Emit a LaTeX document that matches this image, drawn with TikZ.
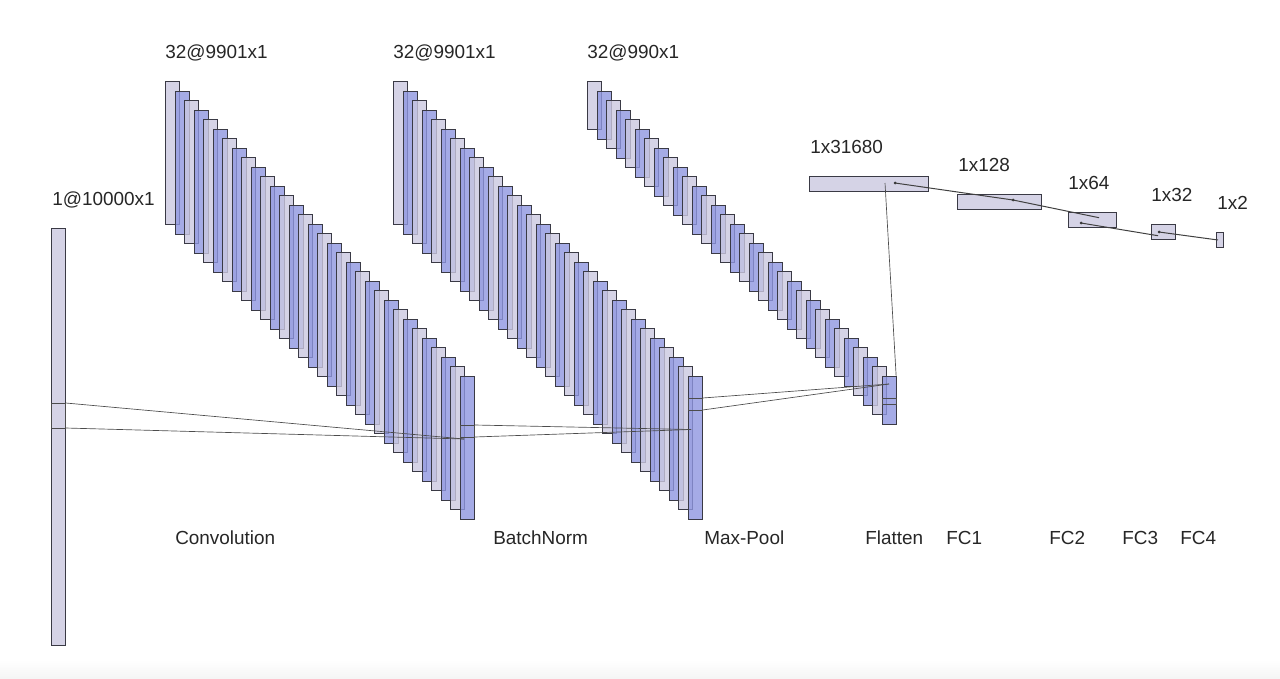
\documentclass[tikz,border=0pt]{standalone}
\usepackage{fontspec}
\setmainfont{Liberation Sans}
\definecolor{mapgray}{HTML}{CBC8E0}
\definecolor{mapblue}{HTML}{8E96E0}
\definecolor{mapline}{HTML}{3A3A45}
\tikzset{
    mapbox/.style={draw=mapline, line width=0.75pt, fill opacity=0.8, inner sep=0pt, outer sep=0pt, anchor=north west},
    graymap/.style={mapbox, fill=mapgray},
    bluemap/.style={mapbox, fill=mapblue},
    kernel/.style={draw=black!70, line width=0.7pt, inner sep=0pt, outer sep=0pt, anchor=north west},
    link/.style={draw=black!70, line width=0.5pt},
    fclink/.style={draw=black!75, line width=0.75pt},
    tip/.style={circle, fill=black!80, inner sep=0.8pt},
    dim/.style={font=\fontsize{14.2}{16}\selectfont, anchor=base west, inner sep=0pt, text=black!85}
}
% #1 name, #2 left, #3 height in pt
\newcommand{\mapstack}[3]{
    \foreach \i in {0,...,31} {
        \ifodd\i \def\mapstyle{bluemap}\else \def\mapstyle{graymap}\fi
        \node[\mapstyle, minimum width=10.6pt, minimum height=#3] (#1\i) at (#2+\i*9.5, 81.5+\i*9.5) {};
    }
}
\begin{document}
\begin{tikzpicture}[x=0.75pt, y=-0.75pt]
    \useasboundingbox (0,0) rectangle (1280,678);
    \shade[top color=white, bottom color=black!4] (0,660) rectangle (1280,678);

    % input
    \node[graymap, minimum width=10.6pt, minimum height=312.5pt] (input) at (51.5,228.5) {};

    % feature maps
    \mapstack{conv}{165.5}{107.25pt}
    \mapstack{norm}{393.5}{107.25pt}
    \mapstack{pool}{587.5}{36pt}

    % flat layers
    \node[graymap, minimum width=89.25pt, minimum height=11.25pt] (flat) at (809.5,176.5) {};
    \node[graymap, minimum width=63pt, minimum height=11.25pt] (fca) at (957.5,194.5) {};
    \node[graymap, minimum width=36pt, minimum height=11.25pt] (fcb) at (1068.5,212.5) {};
    \node[graymap, minimum width=18pt, minimum height=11pt] (fcc) at (1151.5,224.5) {};
    \node[graymap, minimum width=5.6pt, minimum height=11.25pt] (fcd) at (1216.5,232.5) {};

    % kernels
    \node[kernel, minimum width=11pt, minimum height=18.75pt] (inputkernel) at (51,403) {};
    \node[kernel, minimum width=11pt, minimum height=9pt] (convkernel) at (460,425) {};
    \node[kernel, minimum width=11pt, minimum height=9pt] (normkernel) at (688,398) {};
    \node[kernel, minimum width=11pt, minimum height=4.5pt] (poolkernel) at (882,398) {};

    % link ends
    \coordinate (convend) at (464,439);
    \coordinate (normend) at (691,429.5);
    \coordinate (poolend) at (889,384);
    \coordinate (flatend) at (885,183);
    \node[tip] (flatstart) at (895,183) {};
    \node[tip] (fcamid) at (1013,200) {};
    \coordinate (fcbend) at (1099,217.7);
    \node[tip] (fcbstart) at (1081,223) {};
    \coordinate (fccend) at (1158,235.7);
    \node[tip] (fccstart) at (1159,232) {};
    \coordinate (fcdend) at (1218,240);

    % links
    \draw[link] (inputkernel.north east) -- (convend);
    \draw[link] (inputkernel.south east) -- (convend);
    \draw[link] (convkernel.north east) -- (normend);
    \draw[link] (convkernel.south east) -- (normend);
    \draw[link] (normkernel.north east) -- (poolend);
    \draw[link] (normkernel.south east) -- (poolend);
    \draw[link] (pool31.north east) -- (flatend);
    \draw[fclink] (flatstart.center) -- (fcamid.center) -- (fcbend);
    \draw[fclink] (fcbstart.center) -- (fccend);
    \draw[fclink] (fccstart.center) -- (fcdend);

    % sizes
    \node[dim] (sizeinput) at (52,205) {1@10000x1};
    \node[dim] (sizeconv) at (165,58) {32@9901x1};
    \node[dim] (sizenorm) at (393,58) {32@9901x1};
    \node[dim] (sizepool) at (587,58) {32@990x1};
    \node[dim] (sizeflat) at (810,153) {1x31680};
    \node[dim] (sizefca) at (958,171) {1x128};
    \node[dim] (sizefcb) at (1068,189) {1x64};
    \node[dim] (sizefcc) at (1151,201) {1x32};
    \node[dim] (sizefcd) at (1217,209) {1x2};

    % layer names
    \node[dim] (nameconv) at (175,544) {Convolution};
    \node[dim] (namenorm) at (493,544) {BatchNorm};
    \node[dim] (namepool) at (704,544) {Max-Pool};
    \node[dim] (nameflat) at (865,544) {Flatten};
    \node[dim] (namefca) at (946,544) {FC1};
    \node[dim] (namefcb) at (1049,544) {FC2};
    \node[dim] (namefcc) at (1122,544) {FC3};
    \node[dim] (namefcd) at (1180,544) {FC4};
\end{tikzpicture}
\end{document}
